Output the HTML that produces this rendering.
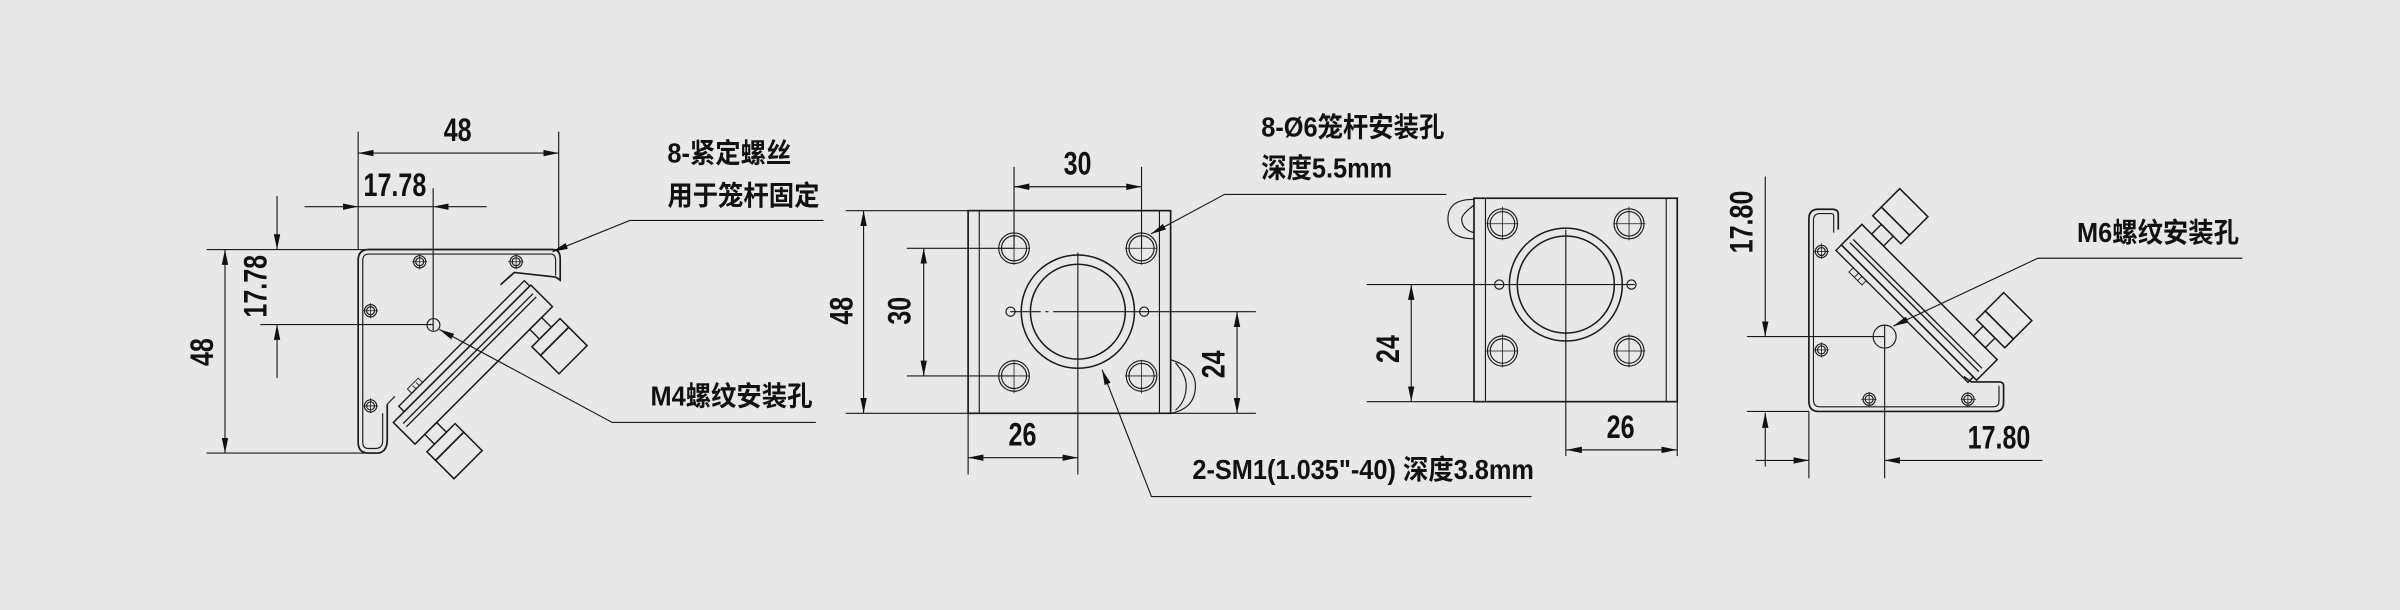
<!DOCTYPE html>
<html><head><meta charset="utf-8"><style>
html,body{margin:0;padding:0;background:#e8e8e8;}
svg{display:block;}
text{font-family:"Liberation Sans Narrow","Liberation Sans","Noto Sans CJK SC",sans-serif;fill:#111;}
.n{font-weight:bold;font-size:21px;}
.c{font-size:18px;font-weight:bold;font-family:"Liberation Sans","Noto Sans CJK SC",sans-serif;}
</style></head><body>
<svg width="2400" height="610" viewBox="0 0 1568 398.5" xmlns="http://www.w3.org/2000/svg">
<defs>
<marker id="a" markerUnits="userSpaceOnUse" markerWidth="12" markerHeight="6" refX="10" refY="3" orient="auto-start-reverse"><path d="M10,3 L0,0.9 L0,5.1 z" fill="#111"/></marker>
</defs>
<rect width="1568" height="398.5" fill="#e8e8e8"/>
<g stroke="#1a1a1a" stroke-width="0.75" fill="none">

<line x1="234" y1="86" x2="234" y2="163"/>
<line x1="365" y1="86" x2="365" y2="163"/>
<line x1="234" y1="100" x2="365" y2="100" marker-start="url(#a)" marker-end="url(#a)"/>
<line x1="199" y1="135" x2="234" y2="135" marker-end="url(#a)"/>
<line x1="318" y1="135" x2="283" y2="135" marker-end="url(#a)"/>
<line x1="234" y1="135" x2="283" y2="135"/>
<line x1="283" y1="123" x2="283" y2="216"/>
<line x1="135" y1="163" x2="366" y2="163"/>
<line x1="135" y1="296" x2="248" y2="296"/>
<line x1="147" y1="163" x2="147" y2="296" marker-start="url(#a)" marker-end="url(#a)"/>
<line x1="181" y1="128" x2="181" y2="163" marker-end="url(#a)"/>
<line x1="181" y1="247" x2="181" y2="212" marker-end="url(#a)"/>
<line x1="170" y1="212" x2="283" y2="212"/>
<path stroke-width="1.1" d="M253,264 L253,287 Q253,296 246,296 L241,296 Q234,296 234,289 L234,170 Q234,163 241,163 L361,163 Q366,163 366,169 L366,183 L363,181 L336,178 L327,186"/>
<path d="M250,270 L250,288 Q250,293 245,293 L241,293 Q237,293 237,289 L237,170 Q237,166 241,166 L360,166 Q363,166 363,170 L363,180"/>
<path d="M253,264 L258,259"/>
<g>
<circle cx="274.2" cy="171" r="4"/><circle cx="274.2" cy="171" r="2.6"/>
<circle cx="337.2" cy="171" r="4"/><circle cx="337.2" cy="171" r="2.6"/>
<circle cx="242.1" cy="203" r="4"/><circle cx="242.1" cy="203" r="2.6"/>
<circle cx="242.1" cy="265.2" r="4"/><circle cx="242.1" cy="265.2" r="2.6"/>
<path d="M269,171h10M274.2,166v10M332,171h10M337.2,166v10M237,203h10M242.1,198v10M237,265.2h10M242.1,260v10" stroke-width="0.5"/>
<circle cx="283.2" cy="212.3" r="4.2"/>
</g>
<g transform="translate(257,276) rotate(-45)" stroke-width="0.9">
<rect x="10" y="-5" width="116" height="5"/>
<rect x="0" y="0" width="127" height="20" stroke-width="1"/>
<line x1="4" y1="5" x2="124" y2="5"/>
<line x1="4" y1="8" x2="124" y2="8"/>
<rect x="9" y="20" width="11" height="9"/>
<rect x="106" y="20" width="11" height="9"/>
<rect x="2" y="29" width="26" height="8" stroke-width="1"/>
<rect x="2" y="37" width="26" height="17" stroke-width="1"/>
<rect x="99" y="29" width="26" height="8" stroke-width="1"/>
<rect x="99" y="37" width="26" height="17" stroke-width="1"/>
<path d="M22,-5 l0,-4 l10,0 l0,4 M26,-8 l0,3 M29,-8 l0,3" stroke-width="0.6"/>
</g>
<path d="M538,144 L411.5,144 L361,164.4" marker-end="url(#a)"/>
<path d="M533,276 L400,276 L287,215.2" marker-end="url(#a)"/>

<rect x="632.5" y="137.6" width="132.3" height="132.4" stroke-width="1.1"/>
<line x1="639.8" y1="137.6" x2="639.8" y2="270"/>
<line x1="757.5" y1="137.6" x2="757.5" y2="270"/>
<path d="M764.8,235 Q781,240 781,252 Q781,267 764.8,270"/>
<path d="M768,237 Q775,245 775,252 Q775,262 768,268"/>
<g>
<circle cx="662.5" cy="162.2" r="10"/><circle cx="662.5" cy="162.2" r="8.2"/>
<circle cx="745.8" cy="162.2" r="10"/><circle cx="745.8" cy="162.2" r="8.2"/>
<circle cx="662.5" cy="245.6" r="10"/><circle cx="662.5" cy="245.6" r="8.2"/>
<circle cx="745.8" cy="245.6" r="10"/><circle cx="745.8" cy="245.6" r="8.2"/>
<circle cx="704.2" cy="203.6" r="37" stroke-width="1"/><circle cx="704.2" cy="203.6" r="31" stroke-width="1"/>
<circle cx="660.2" cy="203.6" r="3"/><circle cx="747.5" cy="203.6" r="3"/>
<path d="M652,162.2h21M662.5,151v22M735,162.2h21M745.8,151v22M652,245.6h21M662.5,235v22M735,245.6h21M745.8,235v22" stroke-width="0.5"/>
</g>
<line x1="662.5" y1="109" x2="662.5" y2="162"/>
<line x1="745.8" y1="109" x2="745.8" y2="162"/>
<line x1="662.5" y1="122" x2="745.8" y2="122" marker-start="url(#a)" marker-end="url(#a)"/>
<line x1="552.5" y1="137.6" x2="632.5" y2="137.6"/>
<line x1="552.5" y1="270" x2="632.5" y2="270"/>
<line x1="564.2" y1="137.6" x2="564.2" y2="270" marker-start="url(#a)" marker-end="url(#a)"/>
<line x1="592.5" y1="162.2" x2="662.5" y2="162.2"/>
<line x1="592.5" y1="245.6" x2="662.5" y2="245.6"/>
<line x1="603.5" y1="162.2" x2="603.5" y2="245.6" marker-start="url(#a)" marker-end="url(#a)"/>
<line x1="704.2" y1="203.6" x2="820.5" y2="203.6"/>
<line x1="660" y1="203.6" x2="704" y2="203.6" stroke-dasharray="20,3,2,3"/>
<line x1="764.8" y1="270" x2="820.5" y2="270"/>
<line x1="808.2" y1="203.6" x2="808.2" y2="270" marker-start="url(#a)" marker-end="url(#a)"/>
<line x1="704.2" y1="165" x2="704.2" y2="310"/>
<line x1="632.5" y1="270" x2="632.5" y2="310"/>
<line x1="632.5" y1="299" x2="704.2" y2="299" marker-start="url(#a)" marker-end="url(#a)"/>
<path d="M945,127 L800,127 L752,152.8" marker-end="url(#a)"/>
<path d="M1000.6,324.4 L752.3,324.4 L720,241.5" marker-end="url(#a)"/>

<rect x="963" y="129.5" width="132.8" height="132.9" stroke-width="1.1"/>
<line x1="970.5" y1="129.5" x2="970.5" y2="262.4"/>
<line x1="1088.6" y1="129.5" x2="1088.6" y2="262.4"/>
<path d="M963,130.3 Q946,130 946,143 Q946,156 963,156"/>
<path d="M963,134 Q955,140 955,143 Q955,150 963,152"/>
<g>
<circle cx="981.6" cy="146.2" r="9.8"/><circle cx="981.6" cy="146.2" r="8"/>
<circle cx="1064.3" cy="146.2" r="9.8"/><circle cx="1064.3" cy="146.2" r="8"/>
<circle cx="981.6" cy="229.3" r="9.8"/><circle cx="981.6" cy="229.3" r="8"/>
<circle cx="1064.3" cy="229.3" r="9.8"/><circle cx="1064.3" cy="229.3" r="8"/>
<circle cx="1023" cy="185.9" r="36.9" stroke-width="1"/><circle cx="1023" cy="185.9" r="31.7" stroke-width="1"/>
<circle cx="979.5" cy="185.9" r="3"/><circle cx="1065.9" cy="185.9" r="3"/>
<path d="M971,146.2h21M981.6,135v22M1054,146.2h21M1064.3,135v22M971,229.3h21M981.6,218v22M1054,229.3h21M1064.3,218v22" stroke-width="0.5"/>
</g>
<line x1="893" y1="185.9" x2="1068" y2="185.9"/>
<line x1="893" y1="262.4" x2="963" y2="262.4"/>
<line x1="922" y1="185.9" x2="922" y2="262.4" marker-start="url(#a)" marker-end="url(#a)"/>
<line x1="1023" y1="150" x2="1023" y2="298"/>
<line x1="1095.8" y1="262.4" x2="1095.8" y2="298"/>
<line x1="1023.5" y1="293.9" x2="1095.5" y2="293.9" marker-start="url(#a)" marker-end="url(#a)"/>

<path stroke-width="1.1" d="M1201,150 L1201,140 Q1201,136.7 1197,136.7 L1188,136.7 Q1181.8,136.7 1181.8,143 L1181.8,262 Q1181.8,268.8 1188,268.8 L1303,268.8 Q1309,268.8 1309,263 L1309,252 Q1309,249.5 1306,249.5 L1288,249.5 L1283,246"/>
<path d="M1198,152 L1198,141 Q1198,139.5 1196,139.5 L1189,139.5 Q1184.8,139.5 1184.8,144 L1184.8,261 Q1184.8,265.8 1189,265.8 L1302,265.8 Q1306,265.8 1306,262 L1306,252"/>
<g>
<circle cx="1190" cy="164.3" r="4"/><circle cx="1190" cy="164.3" r="2.6"/>
<circle cx="1190" cy="228.6" r="4"/><circle cx="1190" cy="228.6" r="2.6"/>
<circle cx="1221.2" cy="260.8" r="4"/><circle cx="1221.2" cy="260.8" r="2.6"/>
<circle cx="1285.7" cy="260.8" r="4"/><circle cx="1285.7" cy="260.8" r="2.6"/>
<path d="M1185,164.3h10M1190,159v10M1185,228.6h10M1190,223.6v10M1216,260.8h10M1221.2,256v10M1281,260.8h10M1285.7,256v10" stroke-width="0.5"/>
<circle cx="1231.3" cy="219.9" r="7.5"/>
</g>
<g transform="translate(1203,160) rotate(45)" stroke-width="0.9">
<rect x="0" y="0" width="122" height="5"/>
<rect x="0" y="-19" width="125" height="19" stroke-width="1"/>
<line x1="3" y1="-5" x2="122" y2="-5"/>
<line x1="3" y1="-8" x2="122" y2="-8"/>
<rect x="9" y="-28" width="11" height="9"/>
<rect x="103" y="-28" width="11" height="9"/>
<rect x="1" y="-36" width="26" height="8" stroke-width="1"/>
<rect x="1" y="-53" width="26" height="17" stroke-width="1"/>
<rect x="97" y="-36" width="26" height="8" stroke-width="1"/>
<rect x="97" y="-53" width="26" height="17" stroke-width="1"/>
<path d="M16,5 l0,4 l12,0 l0,-4 M21,5 l0,4 M24,5 l0,4" stroke-width="0.6"/>
</g>
<line x1="1153.3" y1="115.4" x2="1153.3" y2="219.9" marker-end="url(#a)"/>
<line x1="1153.3" y1="304.8" x2="1153.3" y2="269.5" marker-end="url(#a)"/>
<line x1="1141.3" y1="219.9" x2="1231" y2="219.9"/>
<line x1="1141.3" y1="268.8" x2="1182" y2="268.8"/>
<line x1="1181.8" y1="268.8" x2="1181.8" y2="312.4"/>
<line x1="1231.3" y1="212" x2="1231.3" y2="312.4"/>
<line x1="1147" y1="300.8" x2="1181.8" y2="300.8" marker-end="url(#a)"/>
<line x1="1334.4" y1="300.8" x2="1231.3" y2="300.8" marker-end="url(#a)"/>
<path d="M1465,168.7 L1331.4,168.7 L1237,213" marker-end="url(#a)"/>
</g>

<text class="n" transform="translate(299,92) scale(0.78,1)" text-anchor="middle">48</text>
<text class="n" transform="translate(258,128) scale(0.78,1)" text-anchor="middle">17.78</text>
<text class="n" transform="translate(139,230) rotate(-90) scale(0.78,1)" text-anchor="middle">48</text>
<text class="n" transform="translate(174,187) rotate(-90) scale(0.78,1)" text-anchor="middle">17.78</text>
<text class="c" transform="translate(436,106) scale(0.92,1)">8-紧定螺丝</text>
<text class="c" transform="translate(436,134) scale(0.92,1)">用于笼杆固定</text>
<text class="c" transform="translate(425,265) scale(0.92,1)">M4螺纹安装孔</text>

<text class="n" transform="translate(704,114) scale(0.78,1)" text-anchor="middle">30</text>
<text class="n" transform="translate(557,203) rotate(-90) scale(0.78,1)" text-anchor="middle">48</text>
<text class="n" transform="translate(595,203) rotate(-90) scale(0.78,1)" text-anchor="middle">30</text>
<text class="n" transform="translate(800,238) rotate(-90) scale(0.78,1)" text-anchor="middle">24</text>
<text class="n" transform="translate(668,291) scale(0.78,1)" text-anchor="middle">26</text>
<text class="c" transform="translate(824,89) scale(0.92,1)">8-Ø6笼杆安装孔</text>
<text class="c" transform="translate(824,116) scale(0.92,1)">深度5.5mm</text>
<text class="c" transform="translate(779,313) scale(0.92,1)">2-SM1(1.035"-40) 深度3.8mm</text>

<text class="n" transform="translate(914,228) rotate(-90) scale(0.78,1)" text-anchor="middle">24</text>
<text class="n" transform="translate(1058.8,286) scale(0.78,1)" text-anchor="middle">26</text>

<text class="n" transform="translate(1145,145) rotate(-90) scale(0.78,1)" text-anchor="middle">17.80</text>
<text class="n" transform="translate(1306,293) scale(0.78,1)" text-anchor="middle">17.80</text>
<text class="c" transform="translate(1357,158) scale(0.92,1)">M6螺纹安装孔</text>
</svg>
</body></html>
